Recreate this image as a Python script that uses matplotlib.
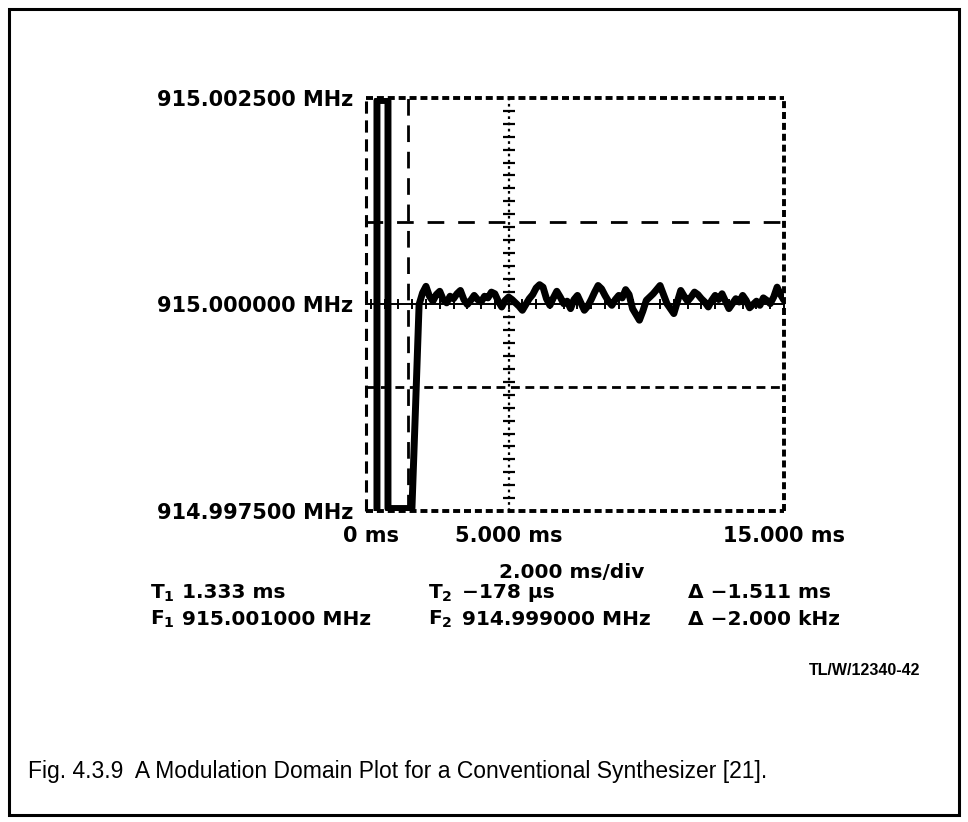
import matplotlib
matplotlib.use("Agg")
import matplotlib.pyplot as plt
import numpy as np

W, H = 968, 822
CENTER_MHZ = 915.0

# Frequency deviation (kHz from 915 MHz) of the synthesizer output after the hop.
transient_t = [0.22, 0.22, 0.62, 0.62, 1.49, 1.62, 1.75]
transient_khz = [-2.7, 2.47, 2.47, -2.47, -2.47, -1.25, 0.0]

# settled part, sampled every 0.125 ms from 1.75 ms to 15 ms
settle_start_ms = 1.75
settle_step_ms = 0.125
settle_khz = [0.00, 0.14, 0.22, 0.10, 0.04, 0.12, 0.16, 0.06, 0.02, 0.10,
              0.07, 0.13, 0.17, 0.06, 0.00, 0.05, 0.11, 0.06, 0.03, 0.10,
              0.08, 0.15, 0.13, 0.04, -0.03, 0.05, 0.09, 0.06, 0.02, -0.02,
              -0.07, 0.00, 0.07, 0.12, 0.20, 0.24, 0.21, 0.07, -0.01, 0.08,
              0.16, 0.09, 0.01, 0.04, -0.05, 0.06, 0.11, 0.02, -0.07, -0.02,
              0.06, 0.15, 0.23, 0.19, 0.11, 0.04, -0.01, 0.06, 0.11, 0.08,
              0.18, 0.12, -0.05, -0.12, -0.19, -0.08, 0.05, 0.09, 0.13, 0.18,
              0.23, 0.12, 0.01, -0.05, -0.11, 0.03, 0.17, 0.10, 0.04, 0.09,
              0.15, 0.12, 0.07, 0.03, -0.03, 0.05, 0.11, 0.06, 0.13, 0.04,
              -0.05, 0.01, 0.07, 0.03, 0.11, 0.05, -0.04, 0.00, 0.04, -0.01,
              0.08, 0.05, 0.01, 0.09, 0.21, 0.12, 0.05]
settle_t = [round(settle_start_ms + i * settle_step_ms, 3) for i in range(len(settle_khz))]

# Axis ranges and tick labels
x_span = (-0.178, 15.0)
y_span = (-2.5, 2.5)
x_ticks_ms = [0.0, 5.0, 15.0]
x_tick_labels = ["0 ms", "5.000 ms", "15.000 ms"]
y_ticks_khz = [2.5, 0.0, -2.5]
div_label = "2.000 ms/div"

# Cursor markers
t1_ms = 1.333
t2_ms = -0.178
f1_khz = 1.0
f2_khz = -1.0

plot_font = "DejaVu Sans"
caption = "Fig. 4.3.9  A Modulation Domain Plot for a Conventional Synthesizer [21]."
ref_code = "TL/W/12340-42"


def fx(x):
    return x / W


def fy(y):
    return 1 - y / H


fig = plt.figure(figsize=(W / 100, H / 100), dpi=100)
fig.patch.set_facecolor("white")

# outer frame of the figure
frame = plt.Rectangle((fx(9), fy(815)), fx(950), (815 - 9) / H,
                      transform=fig.transFigure, fill=False, lw=2.2, ec="black")
fig.add_artist(frame)

left, right, top, bottom = 366, 784, 98, 511
ax = fig.add_axes([fx(left), fy(bottom), (right - left) / W, (bottom - top) / H])
ax.set_xlim(*x_span)
ax.set_ylim(*y_span)
for s in ax.spines.values():
    s.set_visible(False)
ax.set_facecolor("white")

# dotted screen border (top, right, bottom)
dot = dict(color="black", lw=2.8, ls=(0, (1.8, 1.0)), clip_on=False,
           solid_capstyle="butt", dash_capstyle="butt")
ax.plot(x_span, [y_span[1]] * 2, **dot)
ax.plot(x_span, [y_span[0]] * 2, **dot)
ax.plot([x_span[1]] * 2, y_span, **dot)

# graticule: centre frequency line with time ticks, 5 ms line with frequency ticks
ax.plot(x_span, [0, 0], color="black", lw=1.4, clip_on=False)
time_ticks = np.arange(0.0, 15.01, 0.5)
ax.plot(time_ticks, np.zeros_like(time_ticks), ls="none", marker="|",
        ms=7, mew=1.4, color="black")
ax.plot([5.0, 5.0], y_span, color="black", lw=1.6, ls=(0, (1.2, 1.6)))
freq_ticks = np.linspace(-2.5, 2.5, 33)[1:-1]
ax.plot(np.full_like(freq_ticks, 5.0), freq_ticks, ls="none",
        marker="_", ms=8, mew=1.6, color="black")

# time cursors
ax.plot([t2_ms, t2_ms], y_span, color="black", lw=2.2, ls=(0, (4, 2.2)), clip_on=False)
ax.plot([t1_ms, t1_ms], y_span, color="black", lw=2.0, ls=(0, (6, 3.5)))
# frequency cursors
ax.plot(x_span, [f1_khz, f1_khz], color="black", lw=2.0, ls=(0, (6, 5)))
ax.plot(x_span, [f2_khz, f2_khz], color="black", lw=2.0, ls=(0, (3.2, 2)))

# measured frequency trace
ax.plot(transient_t + settle_t[1:], transient_khz + settle_khz[1:],
        color="black", lw=5.0, solid_joinstyle="round", solid_capstyle="round")

ax.set_xticks(x_ticks_ms)
ax.set_xticklabels(x_tick_labels)
ax.set_yticks(y_ticks_khz)
ax.set_yticklabels([f"{CENTER_MHZ + v / 1000:.6f} MHz" for v in y_ticks_khz])
ax.tick_params(length=0, labelsize=15, pad=9)
for lab in ax.get_xticklabels() + ax.get_yticklabels():
    lab.set_fontfamily(plot_font)
    lab.set_fontweight("bold")
ax.tick_params(axis="x", pad=11)

txt = dict(fontsize=14.5, fontweight="bold", family=plot_font, va="center")
fig.text(fx(572), fy(572), div_label, ha="center", **txt)

dt = (t2_ms - t1_ms)
df = (f2_khz - f1_khz)
row_t = 593
row_f = 619
fig.text(fx(150), fy(row_t), r"$\mathbf{T_1}$", **txt)
fig.text(fx(182), fy(row_t), f"{t1_ms:.3f} ms", **txt)
fig.text(fx(428), fy(row_t), r"$\mathbf{T_2}$", **txt)
fig.text(fx(462), fy(row_t), f"\u2212{abs(t2_ms) * 1000:.0f} \u00b5s", **txt)
fig.text(fx(688), fy(row_t), f"\u0394 \u2212{abs(dt):.3f} ms", **txt)

fig.text(fx(150), fy(row_f), r"$\mathbf{F_1}$", **txt)
fig.text(fx(182), fy(row_f), f"{CENTER_MHZ + f1_khz / 1000:.6f} MHz", **txt)
fig.text(fx(428), fy(row_f), r"$\mathbf{F_2}$", **txt)
fig.text(fx(462), fy(row_f), f"{CENTER_MHZ + f2_khz / 1000:.6f} MHz", **txt)
fig.text(fx(688), fy(row_f), f"\u0394 \u2212{abs(df):.3f} kHz", **txt)

fig.text(fx(920), fy(670), ref_code, ha="right", va="center", fontsize=11.5,
         fontweight="bold", family="Liberation Sans")

fig.text(fx(28), fy(771), caption, ha="left", va="center", fontsize=16.5,
         family="Liberation Sans")

fig.savefig("out.png", dpi=100, facecolor="white")
